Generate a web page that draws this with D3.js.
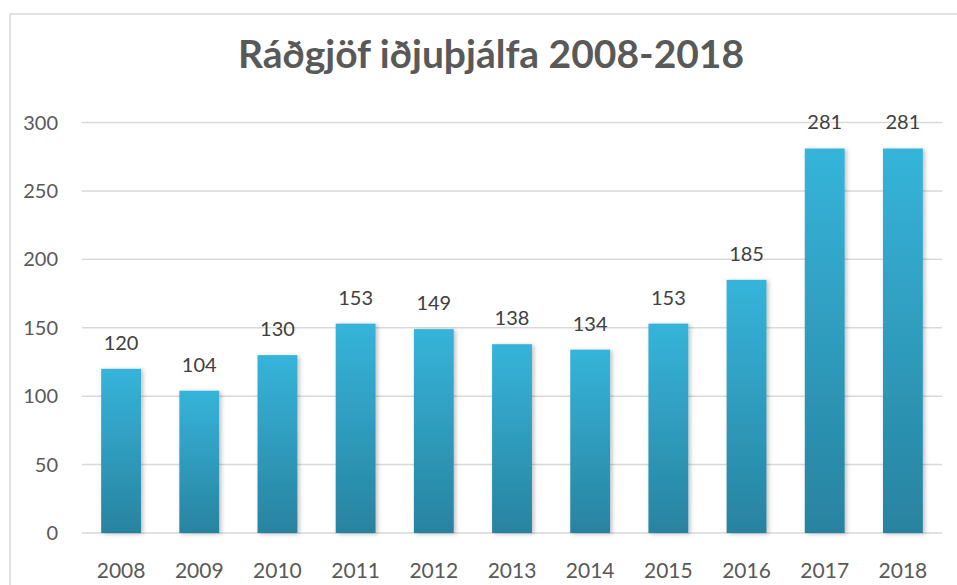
<!DOCTYPE html>
<html>
<head>
<meta charset="utf-8">
<script src="https://cdn.jsdelivr.net/npm/d3@7"></script>
<style>
  body { margin: 0; background: #fff; }
  svg { font-family: Lato, "Open Sans", sans-serif; }
</style>
</head>
<body>
<svg id="chart"></svg>
<script>
// Data
const years = ["2008", "2009", "2010", "2011", "2012", "2013", "2014", "2015", "2016", "2017", "2018"];
const counts = [120, 104, 130, 153, 149, 138, 134, 153, 185, 281, 281];
const yTicks = [0, 50, 100, 150, 200, 250, 300];
const chartTitle = "Ráðgjöf iðjuþjálfa 2008-2018";

const W = 957, H = 585;
const svg = d3.select("#chart").attr("width", W).attr("height", H);

// outer frame
svg.append("rect")
    .attr("x", 10).attr("y", 14)
    .attr("width", W + 20).attr("height", H)
    .attr("fill", "none")
    .attr("stroke", "#d9d9d9")
    .attr("stroke-width", 1.5);

const plot = {left: 82, right: 942, top: 122.5, bottom: 533};

const x = d3.scaleBand()
    .domain(years)
    .range([plot.left, plot.right])
    .paddingInner(0.49)
    .paddingOuter(0.245);

const y = d3.scaleLinear()
    .domain([0, 300])
    .range([plot.bottom, plot.top]);

// gradient + shadow
const defs = svg.append("defs");
const grad = defs.append("linearGradient")
    .attr("id", "barGrad")
    .attr("x1", 0).attr("y1", 0).attr("x2", 0).attr("y2", 1);
grad.append("stop").attr("offset", "0%").attr("stop-color", "#36b4da");
grad.append("stop").attr("offset", "100%").attr("stop-color", "#2883a0");

const shadow = defs.append("filter").attr("id", "shadow")
    .attr("x", "-30%").attr("y", "-10%").attr("width", "160%").attr("height", "120%");
shadow.append("feDropShadow")
    .attr("dx", 2).attr("dy", 1).attr("stdDeviation", 2)
    .attr("flood-color", "#000").attr("flood-opacity", 0.25);

// gridlines
svg.append("g")
    .selectAll("line")
    .data(yTicks)
    .join("line")
    .attr("x1", plot.left).attr("x2", plot.right)
    .attr("y1", d => y(d)).attr("y2", d => y(d))
    .attr("stroke", "#d9d9d9")
    .attr("stroke-width", 1.5);

// y tick labels
svg.append("g")
    .selectAll("text")
    .data(yTicks)
    .join("text")
    .attr("x", 58)
    .attr("y", d => y(d))
    .attr("dy", "0.35em")
    .attr("text-anchor", "end")
    .attr("fill", "#595959")
    .style("font-size", "20px")
    .text(d => d);

// bars
const rows = years.map((yr, i) => ({year: yr, value: counts[i]}));

svg.append("g")
    .selectAll("rect")
    .data(rows)
    .join("rect")
    .attr("x", d => x(d.year))
    .attr("y", d => y(d.value))
    .attr("width", x.bandwidth())
    .attr("height", d => y(0) - y(d.value))
    .attr("fill", "url(#barGrad)")
    .attr("filter", "url(#shadow)");

// value labels
svg.append("g")
    .selectAll("text")
    .data(rows)
    .join("text")
    .attr("x", d => x(d.year) + x.bandwidth() / 2)
    .attr("y", d => y(d.value) - 19)
    .attr("text-anchor", "middle")
    .attr("fill", "#404040")
    .style("font-size", "20px")
    .text(d => d.value);

// x labels
svg.append("g")
    .selectAll("text")
    .data(years)
    .join("text")
    .attr("x", d => x(d) + x.bandwidth() / 2)
    .attr("y", 578)
    .attr("text-anchor", "middle")
    .attr("fill", "#595959")
    .style("font-size", "21px")
    .text(d => d);

// title
svg.append("text")
    .attr("x", 491)
    .attr("y", 68)
    .attr("text-anchor", "middle")
    .attr("fill", "#595959")
    .style("font-size", "39px")
    .style("font-weight", "bold")
    .text(chartTitle);
</script>
</body>
</html>
